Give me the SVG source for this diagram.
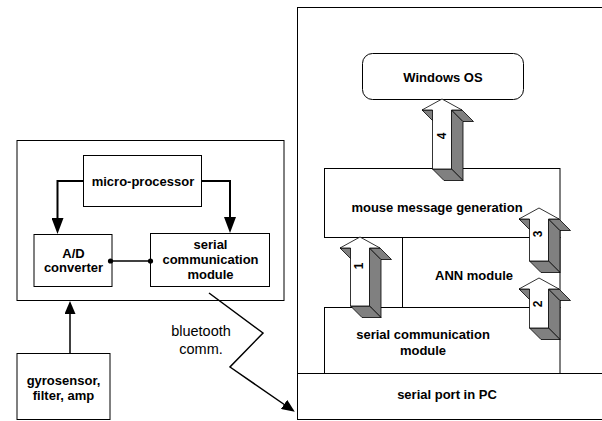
<svg xmlns="http://www.w3.org/2000/svg" width="602" height="421" viewBox="0 0 602 421">
<defs>
<style>
.box{fill:#fff;stroke:#000;stroke-width:1}
.t{font-family:"Liberation Sans",Arial,sans-serif;font-weight:bold;font-size:13px;text-anchor:middle;fill:#000}
.tn{font-family:"Liberation Sans",Arial,sans-serif;font-size:14.5px;text-anchor:middle;fill:#000}
.num{font-family:"Liberation Sans",Arial,sans-serif;font-weight:bold;font-size:12px;text-anchor:middle;fill:#000}
.ln{fill:none;stroke:#000}
.side{fill:#808080;stroke:#000;stroke-width:0.8;stroke-linejoin:round}
.front{fill:#fff;stroke:#000;stroke-width:0.8;stroke-linejoin:round}
</style>
<marker id="ahThick" markerUnits="userSpaceOnUse" viewBox="0 0 16 12" markerWidth="16" markerHeight="12" refX="10" refY="6" orient="auto">
<path d="M0,0 L16,6 L0,12 z" fill="#000"/>
</marker>
<marker id="ahThin" markerUnits="userSpaceOnUse" viewBox="0 0 13 11" markerWidth="13" markerHeight="11" refX="9" refY="5.5" orient="auto">
<path d="M0,0 L13,5.5 L0,11 z" fill="#000"/>
</marker>
</defs>
<rect width="602" height="421" fill="#fff"/>

<!-- left side -->
<g id="device">
<rect class="box" x="17" y="140.5" width="267" height="160"/>
</g>
<g id="micro-processor">
<rect class="box" x="83.5" y="155.5" width="118" height="51"/>
<text class="t" x="143" y="186">micro-processor</text>
</g>
<g id="ad-converter">
<rect class="box" x="34" y="234.5" width="78" height="52"/>
<text class="t" x="73.5" y="258">A/D</text>
<text class="t" x="73.5" y="272">converter</text>
</g>
<g id="serial-comm-left">
<rect class="box" x="150.5" y="233.5" width="119" height="53"/>
<text class="t" x="210.5" y="249">serial</text>
<text class="t" x="210.5" y="264">communication</text>
<text class="t" x="210.5" y="279">module</text>
</g>
<g id="gyrosensor">
<rect class="box" x="17" y="353.5" width="93" height="66"/>
<text class="t" x="63.5" y="385">gyrosensor,</text>
<text class="t" x="63.5" y="400">filter, amp</text>
</g>

<!-- right side -->
<g id="pc">
<rect class="box" x="297.5" y="7.5" width="320" height="412"/>
</g>
<g id="serial-port">
<rect class="box" x="297.5" y="373.5" width="320" height="46"/>
<text class="t" x="447" y="399">serial port in PC</text>
</g>
<g id="windows-os">
<rect class="box" x="362.5" y="53.5" width="161" height="46" rx="10" ry="10"/>
<text class="t" x="443" y="82">Windows OS</text>
</g>
<g id="mouse-message">
<rect class="box" x="324.5" y="168.5" width="235.5" height="69"/>
<text class="t" x="437" y="212">mouse message generation</text>
</g>
<g id="ann-module">
<rect class="box" x="402.5" y="237.5" width="157.5" height="70"/>
<text class="t" x="474" y="280">ANN module</text>
</g>
<g id="serial-comm-right">
<rect class="box" x="324.5" y="307.5" width="235.5" height="66"/>
<text class="t" x="423" y="339">serial communication</text>
<text class="t" x="423" y="355">module</text>
</g>

<g id="connectors">
<path class="ln" stroke-width="2" d="M83.5,181 H57.5 V228" marker-end="url(#ahThick)"/>
<path class="ln" stroke-width="2" d="M201.5,181 H230 V227" marker-end="url(#ahThick)"/>
<path class="ln" stroke-width="1.3" d="M110,261 H150.5"/>
<circle cx="110.5" cy="261" r="2.6" fill="#000"/>
<circle cx="150.5" cy="261" r="2.6" fill="#000"/>
<path class="ln" stroke-width="1.5" d="M70,353.5 V305" marker-end="url(#ahThin)"/>
<path class="ln" stroke-width="1.5" d="M209,293 L263,333 L230,367 L291.5,409.5" marker-end="url(#ahThin)"/>
<text class="tn" x="201" y="336">bluetooth</text>
<text class="tn" x="201" y="354">comm.</text>

<g id="arrow4">
<polygon class="side" points="451.5,110 451.5,169 463,180.5 463,121.5"/>
<polygon class="side" points="432.5,169 451.5,169 463,180.5 444,180.5"/>
<polygon class="side" points="451.5,110 462,110 473.5,121.5 463,121.5"/>
<polygon class="side" points="422,110 432.5,110 444,121.5 433.5,121.5"/>
<polygon class="front" points="442,99 462,110 451.5,110 451.5,169 432.5,169 432.5,110 422,110"/>
<text class="num" transform="translate(442,136) rotate(-90)" y="4.3">4</text>
</g>
<g id="arrow1">
<polygon class="side" points="369.5,248 369.5,306 381,317.5 381,259.5"/>
<polygon class="side" points="350.5,306 369.5,306 381,317.5 362,317.5"/>
<polygon class="side" points="369.5,248 380,248 391.5,259.5 381,259.5"/>
<polygon class="side" points="340,248 350.5,248 362,259.5 351.5,259.5"/>
<polygon class="front" points="360,237 380,248 369.5,248 369.5,306 350.5,306 350.5,248 340,248"/>
<text class="num" transform="translate(359,266) rotate(-90)" y="4.3">1</text>
</g>
<g id="arrow3">
<polygon class="side" points="548.5,219 548.5,261 560,272.5 560,230.5"/>
<polygon class="side" points="529.5,261 548.5,261 560,272.5 541,272.5"/>
<polygon class="side" points="548.5,219 559,219 570.5,230.5 560,230.5"/>
<polygon class="side" points="519,219 529.5,219 541,230.5 530.5,230.5"/>
<polygon class="front" points="539,208 559,219 548.5,219 548.5,261 529.5,261 529.5,219 519,219"/>
<text class="num" transform="translate(538,234) rotate(-90)" y="4.3">3</text>
</g>
<g id="arrow2">
<polygon class="side" points="548.5,289 548.5,328 560,339.5 560,300.5"/>
<polygon class="side" points="529.5,328 548.5,328 560,339.5 541,339.5"/>
<polygon class="side" points="548.5,289 559,289 570.5,300.5 560,300.5"/>
<polygon class="side" points="519,289 529.5,289 541,300.5 530.5,300.5"/>
<polygon class="front" points="539,278 559,289 548.5,289 548.5,328 529.5,328 529.5,289 519,289"/>
<text class="num" transform="translate(538,304) rotate(-90)" y="4.3">2</text>
</g>
</g>
</svg>
